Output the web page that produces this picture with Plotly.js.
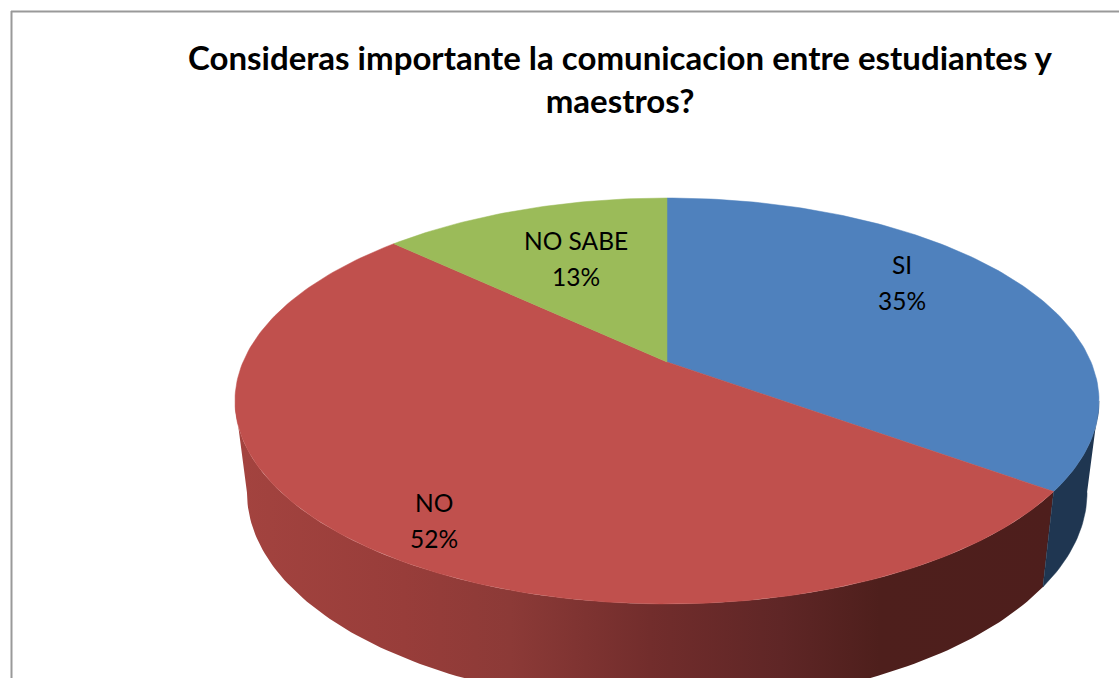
<!DOCTYPE html>
<html>
<head>
<meta charset="utf-8">
<script src="https://cdn.plot.ly/plotly-3.0.1.min.js"></script>
<style>html,body{margin:0;padding:0;background:#fff;overflow:hidden}#chart{width:1119px;height:678px}</style>
</head>
<body>
<div id="chart"></div>
<script>
// Data
const categories = ['SI', 'NO', 'NO SABE'];
const values = [35, 52, 13];
const faceColors = ['#4f81bd', '#c0504d', '#9bbb59'];
const titleText = 'Consideras importante la comunicacion entre estudiantes y<br>maestros?';
const labelAnchors = [[902, 282], [434, 520], [576, 258]];

// Perspective of the 3D pie (axes run in page units)
const CX = 667, K = 424, PA = -126, PB = 362, PC = 0.192;
const TOP_RY = 203, TOP_RX = 432, TOP_CY = 401;
const BOT_RY = 212, BOT_RX = 420, BOT_CY = 492.5;

function topRim(deg) {
  const t = deg * Math.PI / 180, u = Math.sin(t), v = Math.cos(t), d = 1 + PC * v;
  return [CX + K * u / d, (PA * v + PB) / d];
}
function bottomRim(deg) {
  const p = topRim(deg);
  return [CX + (p[0] - CX) * BOT_RX / TOP_RX, BOT_CY + (p[1] - TOP_CY) * BOT_RY / TOP_RY];
}
function arc(fn, a, b) {
  const n = Math.max(2, Math.ceil(Math.abs(b - a)));
  const out = [];
  for (let i = 0; i <= n; i++) out.push(fn(a + (b - a) * i / n));
  return out;
}

const total = values.reduce((s, v) => s + v, 0);
let acc = 0;
const spans = values.map(v => { const s = [acc, acc + v / total * 360]; acc = s[1]; return s; });

// Silhouette angles, where the rim is widest left and right
const tangentR = Math.acos(-PC) * 180 / Math.PI, tangentL = 360 - tangentR;

function wall(a, b, extra, name) {
  const pts = arc(topRim, a, b).concat(arc(bottomRim, b, a));
  return Object.assign({
    type: 'scatter', mode: 'lines', name: name, hoverinfo: 'skip', fill: 'toself',
    x: pts.map(p => p[0]), y: pts.map(p => p[1]),
    showlegend: false
  }, extra);
}

const traces = [];
traces.push(wall(spans[1][0], tangentL, {
  line: { width: 0 },
  fillgradient: {
    type: 'horizontal', start: 240, stop: 1060,
    colorscale: [[0, '#a3433f'], [0.2, '#983d3a'], [0.33, '#8c3a37'], [0.5, '#722d2c'],
                 [0.66, '#5f2626'], [0.78, '#4e1f1c'], [1, '#4e1e1c']]
  }
}, categories[1] + ' wall'));
traces.push(wall(tangentR, spans[0][1], {
  fillcolor: '#1f3651', line: { width: 0.5, color: '#1f3651' }
}, categories[0] + ' wall'));

categories.forEach((c, i) => {
  const pts = arc(topRim, spans[i][0], spans[i][1]);
  pts.unshift([CX, PB]);
  pts.push([CX, PB]);
  traces.push({
    type: 'scatter', mode: 'lines', name: c, fill: 'toself',
    fillcolor: faceColors[i], line: { width: 0.5, color: faceColors[i] },
    x: pts.map(p => p[0]), y: pts.map(p => p[1]),
    hoverinfo: 'name', showlegend: false
  });
});

// Each label is two lines, set 36 units apart
const labelFont = { family: 'Lato, Carlito, sans-serif', size: 24.5, color: '#000' };
const annotations = [];
categories.forEach((c, i) => {
  [[c, -18], [values[i] + '%', 18]].forEach(([text, dy]) => {
    annotations.push({
      xref: 'x', yref: 'y', x: labelAnchors[i][0], y: labelAnchors[i][1] + dy,
      text: text, showarrow: false, xanchor: 'center', yanchor: 'middle', font: labelFont
    });
  });
});

const layout = {
  width: 1119, height: 678,
  margin: { l: 0, r: 0, t: 0, b: 0 },
  paper_bgcolor: '#fff', plot_bgcolor: '#fff',
  showlegend: false,
  title: {
    text: titleText, x: 620 / 1119, xanchor: 'center', xref: 'paper',
    y: 1 - 70 / 678, yanchor: 'top', yref: 'paper',
    font: { family: 'Lato, Carlito, sans-serif', size: 33, color: '#000', weight: 700 }
  },
  xaxis: { range: [0, 1119], visible: false, fixedrange: true },
  yaxis: { range: [678, 0], visible: false, fixedrange: true },
  annotations: annotations,
  shapes: [
    { type: 'line', xref: 'paper', yref: 'paper', x0: 11.5 / 1119, x1: 11.5 / 1119, y0: 0, y1: 1 - 11 / 678, line: { color: '#999', width: 2 } },
    { type: 'line', xref: 'paper', yref: 'paper', x0: 11 / 1119, x1: 1, y0: 1 - 11.5 / 678, y1: 1 - 11.5 / 678, line: { color: '#999', width: 2 } }
  ]
};
Plotly.newPlot('chart', traces, layout, { displayModeBar: false, staticPlot: true });
</script>
</body>
</html>
